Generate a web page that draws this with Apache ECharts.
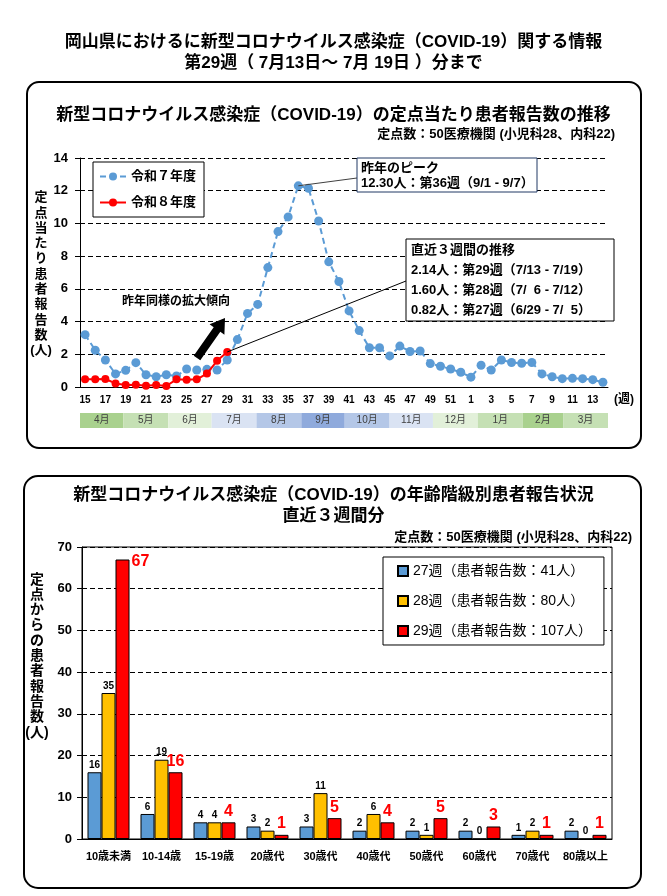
<!DOCTYPE html>
<html>
<head>
<meta charset="utf-8">
<script src="https://cdn.jsdelivr.net/npm/echarts@6/dist/echarts.min.js"></script>
<style>
html, body { margin: 0; padding: 0; background: #fff; }
#main { width: 667px; height: 896px; }
</style>
</head>
<body>
<div id="main"></div>
<script>
var FF = "'Liberation Sans','Noto Sans CJK JP',sans-serif";

// weekly reports per sentinel site
var weeks = ['15','16','17','18','19','20','21','22','23','24','25','26','27','28','29','30','31','32','33','34','35','36','37','38','39','40','41','42','43','44','45','46','47','48','49','50','51','52','1','2','3','4','5','6','7','8','9','10','11','12','13','14'];
var r7 = [3.2,2.25,1.65,0.8,1.02,1.49,0.75,0.63,0.75,0.67,1.1,1.04,1.08,1.04,1.65,2.9,4.5,5.05,7.3,9.5,10.4,12.3,12.15,10.15,7.65,6.45,4.65,3.45,2.4,2.4,1.9,2.5,2.17,2.2,1.43,1.27,1.1,0.9,0.6,1.33,1.04,1.65,1.5,1.45,1.5,0.8,0.63,0.51,0.53,0.51,0.45,0.29];
var r8 = [0.47,0.47,0.49,0.22,0.12,0.14,0.08,0.12,0.06,0.47,0.45,0.47,0.82,1.60,2.14];
var seriesNames = ['令和７年度', '令和８年度'];

// month strip under the axis
var monthNames = ['4月','5月','6月','7月','8月','9月','10月','11月','12月','1月','2月','3月'];
var monthDays = [30,31,30,31,31,30,31,30,31,31,28,31];

// age groups, last 3 weeks
var ageGroups = ['10歳未満','10-14歳','15-19歳','20歳代','30歳代','40歳代','50歳代','60歳代','70歳代','80歳以上'];
var wk27 = [16,6,4,3,3,2,2,2,1,2];
var wk28 = [35,19,4,2,11,6,1,0,2,0];
var wk29 = [67,16,4,1,5,4,5,3,1,1];
var wkNames = ['27週（患者報告数：41人）','28週（患者報告数：80人）','29週（患者報告数：107人）'];

var monthColors = ['#a9d18e','#c5e0b4','#e2f0d9','#dae3f3','#b4c7e7','#8faadc','#b4c7e7','#dae3f3','#e2f0d9','#c5e0b4','#a9d18e','#c5e0b4'];
var totalWeeks = monthDays.reduce(function (a, b) { return a + b; }, 0) / 7;

var chart = echarts.init(document.getElementById('main'));

var monthSeries = monthNames.map(function (m, i) {
  return {
    type: 'bar', name: m, xAxisIndex: 1, yAxisIndex: 1, stack: 'month',
    data: [monthDays[i] / 7], barWidth: 15, silent: true,
    itemStyle: { color: monthColors[i] },
    label: { show: true, position: 'inside', formatter: m, fontSize: 10, color: '#404040', fontFamily: FF }
  };
});

function smallLabel() {
  return { show: true, position: 'top', distance: 2, fontSize: 10, fontWeight: 'bold', color: '#000', fontFamily: FF };
}

var redData = wk29.map(function (v, i) {
  if (i === 0) return { value: v, label: { position: [16, -6] } };
  return v;
});

function boldFont(size) { return 'bold ' + size + 'px ' + FF; }

option = {
  backgroundColor: '#fff',
  animation: false,
  textStyle: { fontFamily: FF },
  title: [
    { text: '岡山県におけるに新型コロナウイルス感染症（COVID-19）関する情報\n第29週（ 7月13日～ 7月 19日 ）分まで',
      left: 'center', top: 32, padding: 0,
      textStyle: { fontSize: 17, fontWeight: 'bold', lineHeight: 21, color: '#000', align: 'center' } },
    { text: '新型コロナウイルス感染症（COVID-19）の定点当たり患者報告数の推移',
      left: 'center', top: 105, padding: 0,
      textStyle: { fontSize: 17, fontWeight: 'bold', lineHeight: 20, color: '#000' } },
    { text: '定点数：50医療機関 (小児科28、内科22)',
      right: 52, top: 126, padding: 0,
      textStyle: { fontSize: 13, fontWeight: 'bold', lineHeight: 16, color: '#000' } },
    { text: '新型コロナウイルス感染症（COVID-19）の年齢階級別患者報告状況\n直近３週間分',
      left: 'center', top: 485, padding: 0,
      textStyle: { fontSize: 17, fontWeight: 'bold', lineHeight: 21, color: '#000', align: 'center' } },
    { text: '定点数：50医療機関 (小児科28、内科22)',
      right: 35, top: 529, padding: 0,
      textStyle: { fontSize: 13, fontWeight: 'bold', lineHeight: 16, color: '#000' } }
  ],
  legend: [
    { data: seriesNames, orient: 'vertical', left: 93, top: 162,
      padding: [8, 8, 8, 6], itemGap: 13, itemWidth: 26, itemHeight: 10,
      backgroundColor: '#fff', borderColor: '#000', borderWidth: 1,
      textStyle: { fontSize: 13, fontWeight: 'bold', color: '#000', fontFamily: FF } },
    { data: wkNames, orient: 'vertical', left: 383, top: 557,
      padding: [7, 12, 7, 14], itemGap: 16, itemWidth: 10, itemHeight: 10, icon: 'rect',
      backgroundColor: '#fff', borderColor: '#000', borderWidth: 1,
      textStyle: { fontSize: 14, color: '#000', fontFamily: FF } }
  ],
  grid: [
    { left: 80, right: 59, top: 158, bottom: 509 },
    { left: 80, right: 59, top: 413, height: 15 },
    { left: 82, right: 55, top: 547, bottom: 57, show: true, borderColor: '#000', borderWidth: 1 }
  ],
  xAxis: [
    { type: 'category', gridIndex: 0, data: weeks, boundaryGap: true,
      axisLine: { lineStyle: { color: '#000', width: 1 } }, axisTick: { show: false },
      axisLabel: { interval: 1, margin: 8, fontSize: 10, fontWeight: 'bold', color: '#000' } },
    { type: 'value', gridIndex: 1, min: 0, max: totalWeeks, show: false },
    { type: 'category', gridIndex: 2, data: ageGroups,
      axisLine: { lineStyle: { color: '#000' } }, axisTick: { show: false },
      axisLabel: { interval: 0, margin: 12, fontSize: 11, fontWeight: 'bold', color: '#000' } }
  ],
  yAxis: [
    { type: 'value', gridIndex: 0, min: 0, max: 14, interval: 2,
      axisLine: { show: true, lineStyle: { color: '#000' } },
      axisTick: { show: true, length: 5, lineStyle: { color: '#000' } },
      axisLabel: { margin: 12, fontSize: 13, fontWeight: 'bold', color: '#000' },
      splitLine: { lineStyle: { color: '#000', type: [5, 3] } } },
    { type: 'category', gridIndex: 1, data: ['m'], show: false },
    { type: 'value', gridIndex: 2, min: 0, max: 70, interval: 10,
      axisLine: { show: true, lineStyle: { color: '#000' } },
      axisTick: { show: true, length: 5, lineStyle: { color: '#000' } },
      axisLabel: { margin: 10, fontSize: 13, fontWeight: 'bold', color: '#000' },
      splitLine: { lineStyle: { color: '#000', type: [5, 3] } } }
  ],
  series: [
    { type: 'line', name: seriesNames[0], data: r7, xAxisIndex: 0, yAxisIndex: 0,
      symbol: 'circle', symbolSize: 9, showAllSymbol: true, z: 3,
      itemStyle: { color: '#5b9bd5' },
      lineStyle: { color: '#5b9bd5', width: 2, type: [6, 4] },
      markLine: { silent: true, symbol: ['none', 'none'], label: { show: false },
        lineStyle: { color: '#404040', width: 1, type: 'solid' },
        data: [[{ coord: ['36', 12.3] }, { x: 357, y: 178 }]] } },
    { type: 'line', name: seriesNames[1], data: r8, xAxisIndex: 0, yAxisIndex: 0,
      symbol: 'circle', symbolSize: 8, showAllSymbol: true, z: 4,
      itemStyle: { color: '#ff0000' },
      lineStyle: { color: '#ff0000', width: 2 },
      markLine: { silent: true, symbol: ['none', 'none'], label: { show: false },
        lineStyle: { color: '#000', width: 1, type: 'solid' },
        data: [[{ coord: ['29', 2.14] }, { x: 406, y: 281 }]] } }
  ].concat(monthSeries).concat([
    { type: 'bar', name: wkNames[0], data: wk27, xAxisIndex: 2, yAxisIndex: 2,
      barWidth: 14, barGap: '0%',
      itemStyle: { color: '#5b9bd5', borderColor: '#000', borderWidth: 1 }, label: smallLabel() },
    { type: 'bar', name: wkNames[1], data: wk28, xAxisIndex: 2, yAxisIndex: 2,
      barWidth: 14, barGap: '0%',
      itemStyle: { color: '#ffc000', borderColor: '#000', borderWidth: 1 }, label: smallLabel() },
    { type: 'bar', name: wkNames[2], data: redData, xAxisIndex: 2, yAxisIndex: 2,
      barWidth: 14, barGap: '0%',
      itemStyle: { color: '#ff0000', borderColor: '#000', borderWidth: 1 },
      label: { show: true, position: 'top', distance: 3, fontSize: 16, fontWeight: 'bold', color: '#ff0000', fontFamily: FF } }
  ]),
  graphic: [
    { type: 'rect', z: 0, shape: { x: 27, y: 82, width: 614, height: 366, r: 12 },
      style: { fill: 'none', stroke: '#000', lineWidth: 2 } },
    { type: 'rect', z: 0, shape: { x: 24, y: 476, width: 617, height: 412, r: 14 },
      style: { fill: 'none', stroke: '#000', lineWidth: 2 } },
    { type: 'text', x: 41, y: 190, style: { text: '定\n点\n当\nた\nり\n患\n者\n報\n告\n数\n(人)',
      font: boldFont(13), lineHeight: 15.3, align: 'center', verticalAlign: 'top', fill: '#000' } },
    { type: 'text', x: 37, y: 572, style: { text: '定\n点\nか\nら\nの\n患\n者\n報\n告\n数\n(人)',
      font: boldFont(14), lineHeight: 15.3, align: 'center', verticalAlign: 'top', fill: '#000' } },
    { type: 'text', x: 614, y: 400, style: { text: '(週)', font: boldFont(12), align: 'left', verticalAlign: 'middle', fill: '#000' } },
    { type: 'text', x: 176, y: 302, style: { text: '昨年同様の拡大傾向', font: boldFont(12), align: 'center', verticalAlign: 'middle', fill: '#000' } },
    { type: 'polygon', z: 50, shape: { points: [[193.7,355.7],[213.7,327.2],[209.6,324.3],[225,318],[224.4,334.7],[220.3,331.8],[200.3,360.3]] },
      style: { fill: '#000' } },
    { type: 'rect', z: 100, shape: { x: 357, y: 158, width: 180, height: 34 },
      style: { fill: '#fff', stroke: '#203864', lineWidth: 1 } },
    { type: 'text', z: 101, x: 361, y: 161, style: { text: '昨年のピーク\n12.30人：第36週（9/1 - 9/7）',
      font: boldFont(13), lineHeight: 15, align: 'left', verticalAlign: 'top', fill: '#000' } },
    { type: 'rect', z: 100, shape: { x: 406, y: 239, width: 208, height: 82 },
      style: { fill: '#fff', stroke: '#000', lineWidth: 1 } },
    { type: 'text', z: 101, x: 411, y: 240, style: { text: '直近３週間の推移\n2.14人：第29週（7/13 - 7/19）\n1.60人：第28週（7/  6 - 7/12）\n0.82人：第27週（6/29 - 7/  5）',
      font: boldFont(13), lineHeight: 20, align: 'left', verticalAlign: 'top', fill: '#000' } }
  ]
};
chart.setOption(option);
</script>
</body>
</html>
